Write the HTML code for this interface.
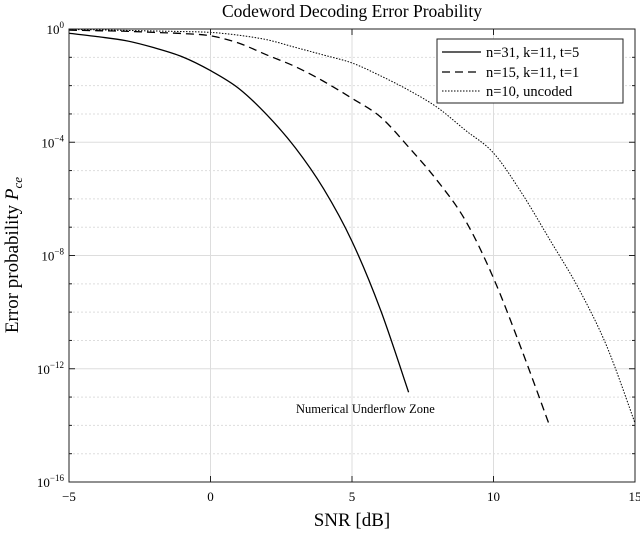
<!DOCTYPE html>
<html><head><meta charset="utf-8"><style>
body{margin:0;background:#fff;}
svg{display:block;font-family:"Liberation Serif",serif;}
</style></head><body>
<svg id="chart" width="640" height="534" viewBox="0 0 640 534" xmlns="http://www.w3.org/2000/svg">
<text x="352" y="17" text-anchor="middle" font-size="17.5">Codeword Decoding Error Proability</text>
<g id="grid"></g>
<g id="series"></g>
<rect x="69" y="29" width="566" height="453" fill="none" stroke="#222" stroke-width="1"/>
<g id="ticks"></g>
<text x="352" y="526" text-anchor="middle" font-size="19">SNR [dB]</text>
<text transform="translate(18,255) rotate(-90)" text-anchor="middle" font-size="19">Error probability <tspan font-style="italic">P</tspan><tspan font-style="italic" font-size="13" dy="4">ce</tspan></text>
<text x="296" y="413" font-size="12.5">Numerical Underflow Zone</text>
<g>
<rect x="437" y="39" width="186" height="64" fill="#fff" stroke="#222" stroke-width="1"/>
<line x1="442" y1="52" x2="481" y2="52" stroke="#000" stroke-width="1.3"/>
<text x="486" y="57" font-size="14.5">n=31, k=11, t=5</text>
<line x1="442" y1="72" x2="481" y2="72" stroke="#000" stroke-width="1.3" stroke-dasharray="8,5"/>
<text x="486" y="77" font-size="14.5">n=15, k=11, t=1</text>
<line x1="442" y1="91" x2="481" y2="91" stroke="#000" stroke-width="1" stroke-dasharray="1.5,1.5"/>
<text x="486" y="96" font-size="14.5">n=10, uncoded</text>
</g>
</svg>
<script>
const snrA = [-5,-4,-3,-2,-1,0,1,2,3,4,5,6,7];
const logPA = [-0.15,-0.27,-0.41,-0.66,-0.98,-1.47,-2.1,-3.04,-4.2,-5.65,-7.5,-9.9,-12.83];
const snrB = [-5,-4,-3,-2,-1,0,1,2,3,4,5,6,7,8,9,10,11,12];
const logPB = [-0.04,-0.06,-0.08,-0.12,-0.16,-0.24,-0.5,-0.92,-1.33,-1.85,-2.45,-3.1,-4.17,-5.34,-6.75,-8.8,-11.34,-14.06];
const snrC = [-5,-4,-3,-2,-1,0,1,2,3,4,5,6,7,8,9,10,11,12,13,14,15];
const logPC = [-0.02,-0.03,-0.05,-0.07,-0.09,-0.12,-0.22,-0.38,-0.65,-0.92,-1.2,-1.65,-2.16,-2.76,-3.57,-4.38,-5.8,-7.46,-9.15,-11.2,-13.92];
const xTicks = [-5,0,5,10,15];
const yMajor = [0,-4,-8,-12,-16];
const X0=69,X1=635,Y0=29,Y1=482;
const sx=v=>X0+(v+5)/20*(X1-X0);
const sy=v=>Y0+(-v)/16*(Y1-Y0);
const NS="http://www.w3.org/2000/svg";
function mk(t,a,p){const e=document.createElementNS(NS,t);for(const k in a)e.setAttribute(k,a[k]);p.appendChild(e);return e;}
const grid=document.getElementById('grid'),ticks=document.getElementById('ticks'),ser=document.getElementById('series');
for(let d=0;d>=-16;d--){
  const y=sy(d);const major=d%4===0;
  if(d!==0&&d!==-16){const g=mk('line',{x1:X0,x2:X1,y1:y,y2:y,stroke:'#ddd','stroke-width':1,'stroke-dasharray':major?'':'2,2'},grid);
  
  }
  mk('line',{x1:X0,x2:X0+(major?6:3),y1:y,y2:y,stroke:'#222'},ticks);
  mk('line',{x1:X1,x2:X1-(major?6:3),y1:y,y2:y,stroke:'#222'},ticks);
}
yMajor.forEach(d=>{const t=mk('text',{x:X0-5,y:sy(d)+5,'text-anchor':'end','font-size':13},ticks);


t.textContent='10';const s=mk('tspan',{dy:-6,'font-size':9},t);s.textContent=d===0?'0':'\u2212'+(-d);});
xTicks.forEach(v=>{const x=sx(v);
 if(v!==-5&&v!==15){const g=mk('line',{x1:x,x2:x,y1:Y0,y2:Y1,stroke:'#ddd'},grid);
 
 }
 mk('line',{x1:x,x2:x,y1:Y1,y2:Y1-6,stroke:'#222'},ticks);mk('line',{x1:x,x2:x,y1:Y0,y2:Y0+6,stroke:'#222'},ticks);
 const t=mk('text',{x:x,y:Y1+19,'text-anchor':'middle','font-size':13},ticks);
 
 
 t.textContent=v<0?'\u2212'+(-v):String(v);});
function line(xs,ys,dash,w,name){
 const P=xs.map((v,i)=>[sx(v),sy(ys[i])]);
 let d='M'+P[0][0]+','+P[0][1];
 for(let i=0;i<P.length-1;i++){
  const p0=P[Math.max(0,i-1)],p1=P[i],p2=P[i+1],p3=P[Math.min(P.length-1,i+2)];
  const c1=[p1[0]+(p2[0]-p0[0])/6,p1[1]+(p2[1]-p0[1])/6];
  const c2=[p2[0]-(p3[0]-p1[0])/6,p2[1]-(p3[1]-p1[1])/6];
  d+=' C'+c1[0]+','+c1[1]+' '+c2[0]+','+c2[1]+' '+p2[0]+','+p2[1];
 }
 const p=mk('path',{d:d,fill:'none',stroke:'#000','stroke-width':w,'stroke-dasharray':dash},ser);
 
 }
line(snrA,logPA,'',1.3,'series-n31-k11-t5');
line(snrB,logPB,'8,5',1.3,'series-n15-k11-t1');
line(snrC,logPC,'1.5,1.5',1,'series-n10-uncoded');
</script>
</body></html>
